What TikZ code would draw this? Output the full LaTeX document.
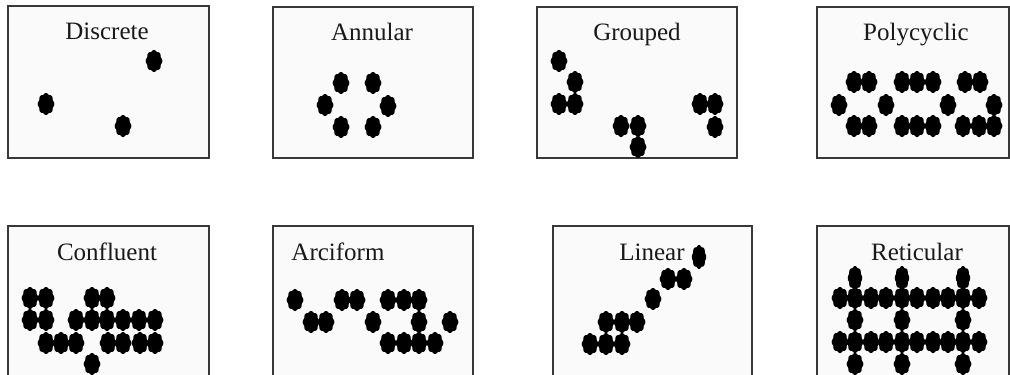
\documentclass[tikz,border=0pt]{standalone}
\usepackage{fontspec}
\setmainfont{Liberation Serif}
\begin{document}
\begin{tikzpicture}[x=1pt,y=-1pt,
  panel/.style={draw=black!78, line width=1.5pt, fill=black!2},
  lbl/.style={anchor=base, font=\fontsize{25}{29}\selectfont, inner sep=0pt, text=black!90},
  blob/.pic={\fill[black] plot[domain=0:360,samples=73]
     ({8.3*(0.87+0.13*abs(cos(4*\x)))*cos(\x)},{11*(0.87+0.13*abs(cos(4*\x)))*sin(\x)}) -- cycle;},
  tallblob/.pic={\fill[black] plot[domain=0:360,samples=73]
     ({7.2*(0.87+0.13*abs(cos(4*\x)))*cos(\x)},{12*(0.87+0.13*abs(cos(4*\x)))*sin(\x)}) -- cycle;}
  ]
\useasboundingbox (0,0) rectangle (1010,375);
\fill[white] (0,0) rectangle (1010,375);
\clip (0,0) rectangle (1010,375);

% panels
\draw[panel] (8,6) rectangle (209,158);
\draw[panel] (273,7) rectangle (473,158);
\draw[panel] (537,7) rectangle (737,158);
\draw[panel] (817,7) rectangle (1009,158);
\draw[panel] (8,226) rectangle (209,390);
\draw[panel] (273,226) rectangle (473,390);
\draw[panel] (553,226) rectangle (752,390);
\draw[panel] (817,226) rectangle (1009,390);

% labels
\node[lbl] (tdisc) at (107,39) {Discrete};
\node[lbl] (tann)  at (372,40) {Annular};
\node[lbl] (tgrp)  at (637,40) {Grouped};
\node[lbl] (tpoly) at (916,40) {Polycyclic};
\node[lbl] (tconf) at (107,260) {Confluent};
\node[lbl] (tarc)  at (338,260) {Arciform};
\node[lbl] (tlin)  at (652,260) {Linear};
\node[lbl] (tret)  at (917,260) {Reticular};

% Discrete
\foreach \a/\b in {154/61,46/104,123/126} \pic at (\a,\b) {blob};
% Annular
\foreach \a/\b in {341/83,373/83,325/105,388/106,341/127,373/127} \pic at (\a,\b) {blob};
% Grouped
\foreach \a/\b in {559/61,575/82,559/104,575/104,621/126,638/126,638/147,700/104,715/104,715/127} \pic at (\a,\b) {blob};
% Polycyclic
\foreach \a in {854,869,902,917,933,965,980} \pic at (\a,82) {blob};
\foreach \a in {839,886,948,994} \pic at (\a,105) {blob};
\foreach \a in {854,869,902,917,933,963,979,994} \pic at (\a,126) {blob};
% Confluent
\foreach \a in {30,46,92,107} \pic at (\a,298) {blob};
\foreach \a in {30,46,76,92,107,123,139,155} \pic at (\a,320) {blob};
\foreach \a in {46,61,76,108,123,140,155} \pic at (\a,343) {blob};
\pic at (92,364) {blob};
% Arciform
\foreach \a in {295,342,357,388,404,419} \pic at (\a,300) {blob};
\foreach \a in {311,326,373,419,450} \pic at (\a,322) {blob};
\foreach \a in {388,404,419,435} \pic at (\a,343) {blob};
% Linear
\pic at (699,257) {tallblob};
\foreach \a/\b in {668/279,684/279,653/299,606/322,622/322,637/322,590/344,606/344,622/344} \pic at (\a,\b) {blob};
% Reticular
\foreach \a in {855,902,963} {
  \pic at (\a,278) {tallblob};
  \pic at (\a,320) {blob};
  \pic at (\a,364) {blob};
}
\foreach \a in {840,855,871,886,902,917,933,948,963,979} {
  \pic at (\a,298) {blob};
  \pic at (\a,342) {blob};
}
\end{tikzpicture}
\end{document}
